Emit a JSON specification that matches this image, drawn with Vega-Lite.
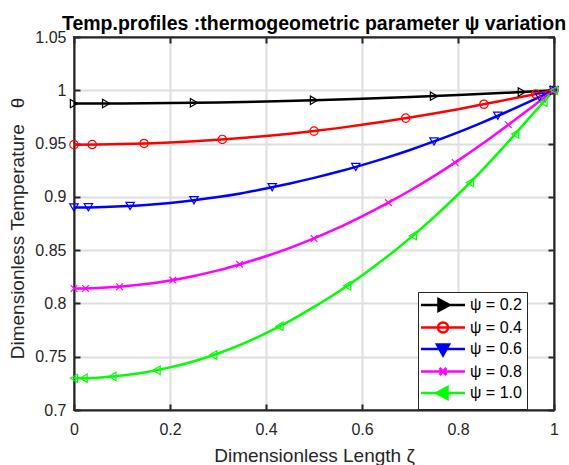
{
  "$schema": "https://vega.github.io/schema/vega-lite/v6.json",
  "width": 480,
  "height": 373,
  "autosize": {"type": "none"},
  "padding": {"left": 74, "top": 37, "right": 15, "bottom": 55},
  "background": "white",
  "title": {
    "text": "Temp.profiles :thermogeometric parameter ψ variation",
    "font": "Liberation Sans",
    "fontSize": 19.5,
    "fontWeight": "bold",
    "color": "#000000",
    "anchor": "middle",
    "baseline": "alphabetic",
    "offset": 7,
    "dy": 27
  },
  "config": {
    "font": "Liberation Sans",
    "view": {"stroke": "#262626", "strokeWidth": 2}
  },
  "datasets": {
    "lines": [
      {"s": "ψ = 0.2", "z": 0, "t": 0.9875},
      {"s": "ψ = 0.2", "z": 0.1, "t": 0.9876},
      {"s": "ψ = 0.2", "z": 0.2, "t": 0.988},
      {"s": "ψ = 0.2", "z": 0.3, "t": 0.9886},
      {"s": "ψ = 0.2", "z": 0.4, "t": 0.9895},
      {"s": "ψ = 0.2", "z": 0.5, "t": 0.9906},
      {"s": "ψ = 0.2", "z": 0.6, "t": 0.992},
      {"s": "ψ = 0.2", "z": 0.7, "t": 0.9936},
      {"s": "ψ = 0.2", "z": 0.8, "t": 0.9955},
      {"s": "ψ = 0.2", "z": 0.9, "t": 0.9976},
      {"s": "ψ = 0.2", "z": 1, "t": 1.0},

      {"s": "ψ = 0.4", "z": 0, "t": 0.949},
      {"s": "ψ = 0.4", "z": 0.05, "t": 0.9491},
      {"s": "ψ = 0.4", "z": 0.1, "t": 0.9495},
      {"s": "ψ = 0.4", "z": 0.15, "t": 0.9501},
      {"s": "ψ = 0.4", "z": 0.2, "t": 0.951},
      {"s": "ψ = 0.4", "z": 0.25, "t": 0.9522},
      {"s": "ψ = 0.4", "z": 0.3, "t": 0.9536},
      {"s": "ψ = 0.4", "z": 0.35, "t": 0.9552},
      {"s": "ψ = 0.4", "z": 0.4, "t": 0.9571},
      {"s": "ψ = 0.4", "z": 0.45, "t": 0.9593},
      {"s": "ψ = 0.4", "z": 0.5, "t": 0.9617},
      {"s": "ψ = 0.4", "z": 0.55, "t": 0.9645},
      {"s": "ψ = 0.4", "z": 0.6, "t": 0.9676},
      {"s": "ψ = 0.4", "z": 0.65, "t": 0.9709},
      {"s": "ψ = 0.4", "z": 0.7, "t": 0.9745},
      {"s": "ψ = 0.4", "z": 0.75, "t": 0.9783},
      {"s": "ψ = 0.4", "z": 0.8, "t": 0.9823},
      {"s": "ψ = 0.4", "z": 0.85, "t": 0.9866},
      {"s": "ψ = 0.4", "z": 0.9, "t": 0.991},
      {"s": "ψ = 0.4", "z": 0.95, "t": 0.9954},
      {"s": "ψ = 0.4", "z": 1, "t": 1.0},

      {"s": "ψ = 0.6", "z": 0, "t": 0.89},
      {"s": "ψ = 0.6", "z": 0.05, "t": 0.8903},
      {"s": "ψ = 0.6", "z": 0.1, "t": 0.8911},
      {"s": "ψ = 0.6", "z": 0.15, "t": 0.8924},
      {"s": "ψ = 0.6", "z": 0.2, "t": 0.8943},
      {"s": "ψ = 0.6", "z": 0.25, "t": 0.8968},
      {"s": "ψ = 0.6", "z": 0.3, "t": 0.8998},
      {"s": "ψ = 0.6", "z": 0.35, "t": 0.9034},
      {"s": "ψ = 0.6", "z": 0.4, "t": 0.9078},
      {"s": "ψ = 0.6", "z": 0.45, "t": 0.9126},
      {"s": "ψ = 0.6", "z": 0.5, "t": 0.9178},
      {"s": "ψ = 0.6", "z": 0.55, "t": 0.9235},
      {"s": "ψ = 0.6", "z": 0.6, "t": 0.9298},
      {"s": "ψ = 0.6", "z": 0.65, "t": 0.9366},
      {"s": "ψ = 0.6", "z": 0.7, "t": 0.944},
      {"s": "ψ = 0.6", "z": 0.75, "t": 0.952},
      {"s": "ψ = 0.6", "z": 0.8, "t": 0.9605},
      {"s": "ψ = 0.6", "z": 0.85, "t": 0.9697},
      {"s": "ψ = 0.6", "z": 0.9, "t": 0.9794},
      {"s": "ψ = 0.6", "z": 0.95, "t": 0.9895},
      {"s": "ψ = 0.6", "z": 1, "t": 1.0},

      {"s": "ψ = 0.8", "z": 0, "t": 0.814},
      {"s": "ψ = 0.8", "z": 0.05, "t": 0.8145},
      {"s": "ψ = 0.8", "z": 0.1, "t": 0.8159},
      {"s": "ψ = 0.8", "z": 0.15, "t": 0.8182},
      {"s": "ψ = 0.8", "z": 0.2, "t": 0.8215},
      {"s": "ψ = 0.8", "z": 0.25, "t": 0.8258},
      {"s": "ψ = 0.8", "z": 0.3, "t": 0.831},
      {"s": "ψ = 0.8", "z": 0.35, "t": 0.8373},
      {"s": "ψ = 0.8", "z": 0.4, "t": 0.8443},
      {"s": "ψ = 0.8", "z": 0.45, "t": 0.8522},
      {"s": "ψ = 0.8", "z": 0.5, "t": 0.861},
      {"s": "ψ = 0.8", "z": 0.55, "t": 0.8708},
      {"s": "ψ = 0.8", "z": 0.6, "t": 0.8817},
      {"s": "ψ = 0.8", "z": 0.65, "t": 0.8934},
      {"s": "ψ = 0.8", "z": 0.7, "t": 0.906},
      {"s": "ψ = 0.8", "z": 0.75, "t": 0.9195},
      {"s": "ψ = 0.8", "z": 0.8, "t": 0.934},
      {"s": "ψ = 0.8", "z": 0.85, "t": 0.9495},
      {"s": "ψ = 0.8", "z": 0.9, "t": 0.966},
      {"s": "ψ = 0.8", "z": 0.95, "t": 0.983},
      {"s": "ψ = 0.8", "z": 1, "t": 1.0},

      {"s": "ψ = 1.0", "z": 0, "t": 0.7297},
      {"s": "ψ = 1.0", "z": 0.05, "t": 0.7303},
      {"s": "ψ = 1.0", "z": 0.1, "t": 0.7323},
      {"s": "ψ = 1.0", "z": 0.15, "t": 0.7355},
      {"s": "ψ = 1.0", "z": 0.2, "t": 0.74},
      {"s": "ψ = 1.0", "z": 0.25, "t": 0.7458},
      {"s": "ψ = 1.0", "z": 0.3, "t": 0.753},
      {"s": "ψ = 1.0", "z": 0.35, "t": 0.7618},
      {"s": "ψ = 1.0", "z": 0.4, "t": 0.7722},
      {"s": "ψ = 1.0", "z": 0.45, "t": 0.7837},
      {"s": "ψ = 1.0", "z": 0.5, "t": 0.7967},
      {"s": "ψ = 1.0", "z": 0.55, "t": 0.8107},
      {"s": "ψ = 1.0", "z": 0.6, "t": 0.8262},
      {"s": "ψ = 1.0", "z": 0.65, "t": 0.843},
      {"s": "ψ = 1.0", "z": 0.7, "t": 0.8613},
      {"s": "ψ = 1.0", "z": 0.75, "t": 0.881},
      {"s": "ψ = 1.0", "z": 0.8, "t": 0.9022},
      {"s": "ψ = 1.0", "z": 0.85, "t": 0.9249},
      {"s": "ψ = 1.0", "z": 0.9, "t": 0.9492},
      {"s": "ψ = 1.0", "z": 0.95, "t": 0.9748},
      {"s": "ψ = 1.0", "z": 1, "t": 1.0}
    ],
    "markers": [
      {"s": "ψ = 0.2", "z": 0, "t": 0.9875},
      {"s": "ψ = 0.2", "z": 0.067, "t": 0.9876},
      {"s": "ψ = 0.2", "z": 0.25, "t": 0.9883},
      {"s": "ψ = 0.2", "z": 0.5, "t": 0.9906},
      {"s": "ψ = 0.2", "z": 0.75, "t": 0.9945},
      {"s": "ψ = 0.2", "z": 0.933, "t": 0.9984},
      {"s": "ψ = 0.2", "z": 1, "t": 1.0},

      {"s": "ψ = 0.4", "z": 0, "t": 0.949},
      {"s": "ψ = 0.4", "z": 0.038, "t": 0.9491},
      {"s": "ψ = 0.4", "z": 0.146, "t": 0.9501},
      {"s": "ψ = 0.4", "z": 0.309, "t": 0.9539},
      {"s": "ψ = 0.4", "z": 0.5, "t": 0.9617},
      {"s": "ψ = 0.4", "z": 0.691, "t": 0.9739},
      {"s": "ψ = 0.4", "z": 0.854, "t": 0.9869},
      {"s": "ψ = 0.4", "z": 0.962, "t": 0.9965},
      {"s": "ψ = 0.4", "z": 1, "t": 1.0},

      {"s": "ψ = 0.6", "z": 0, "t": 0.89},
      {"s": "ψ = 0.6", "z": 0.03, "t": 0.8902},
      {"s": "ψ = 0.6", "z": 0.117, "t": 0.8914},
      {"s": "ψ = 0.6", "z": 0.25, "t": 0.8968},
      {"s": "ψ = 0.6", "z": 0.413, "t": 0.909},
      {"s": "ψ = 0.6", "z": 0.587, "t": 0.9281},
      {"s": "ψ = 0.6", "z": 0.75, "t": 0.952},
      {"s": "ψ = 0.6", "z": 0.883, "t": 0.9761},
      {"s": "ψ = 0.6", "z": 0.97, "t": 0.9937},
      {"s": "ψ = 0.6", "z": 1, "t": 1.0},

      {"s": "ψ = 0.8", "z": 0, "t": 0.814},
      {"s": "ψ = 0.8", "z": 0.024, "t": 0.8141},
      {"s": "ψ = 0.8", "z": 0.095, "t": 0.8157},
      {"s": "ψ = 0.8", "z": 0.206, "t": 0.8219},
      {"s": "ψ = 0.8", "z": 0.345, "t": 0.8367},
      {"s": "ψ = 0.8", "z": 0.5, "t": 0.861},
      {"s": "ψ = 0.8", "z": 0.655, "t": 0.8946},
      {"s": "ψ = 0.8", "z": 0.794, "t": 0.9322},
      {"s": "ψ = 0.8", "z": 0.905, "t": 0.9677},
      {"s": "ψ = 0.8", "z": 0.976, "t": 0.9918},
      {"s": "ψ = 0.8", "z": 1, "t": 1.0},

      {"s": "ψ = 1.0", "z": 0, "t": 0.7297},
      {"s": "ψ = 1.0", "z": 0.02, "t": 0.7298},
      {"s": "ψ = 1.0", "z": 0.08, "t": 0.7314},
      {"s": "ψ = 1.0", "z": 0.172, "t": 0.7373},
      {"s": "ψ = 1.0", "z": 0.29, "t": 0.7516},
      {"s": "ψ = 1.0", "z": 0.428, "t": 0.7785},
      {"s": "ψ = 1.0", "z": 0.569, "t": 0.8166},
      {"s": "ψ = 1.0", "z": 0.706, "t": 0.8636},
      {"s": "ψ = 1.0", "z": 0.825, "t": 0.9134},
      {"s": "ψ = 1.0", "z": 0.919, "t": 0.9589},
      {"s": "ψ = 1.0", "z": 0.978, "t": 0.9887},
      {"s": "ψ = 1.0", "z": 1, "t": 1.0}
    ]
  },
  "layer": [
    {
      "data": {"name": "lines"},
      "mark": {"type": "line", "strokeWidth": 2.5, "interpolate": "monotone"},
      "encoding": {
        "x": {
          "field": "z", "type": "quantitative",
          "scale": {"domain": [0, 1], "nice": false},
          "axis": {
            "orient": "bottom",
            "values": [0, 0.2, 0.4, 0.6, 0.8, 1],
            "format": "~g",
            "title": "Dimensionless Length ζ",
            "titleFont": "Liberation Sans",
            "titleFontSize": 19,
            "titleFontWeight": "normal",
            "titleColor": "#262626",
            "titleBaseline": "alphabetic",
            "titleY": 51,
            "labelFont": "Liberation Sans",
            "labelFontSize": 16,
            "labelColor": "#262626",
            "labelPadding": 17,
            "labelFlush": false,
            "tickSize": -6,
            "tickWidth": 2,
            "tickColor": "#262626",
            "domainColor": "#262626",
            "domainWidth": 2,
            "grid": true,
            "gridColor": "#dedede",
            "gridWidth": 2
          }
        },
        "y": {
          "field": "t", "type": "quantitative",
          "scale": {"domain": [0.7, 1.05], "nice": false, "zero": false},
          "axis": {
            "orient": "left",
            "values": [0.7, 0.75, 0.8, 0.85, 0.9, 0.95, 1, 1.05],
            "format": "~g",
            "title": "Dimensionless Temperature\u00a0\u00a0\u00a0θ",
            "titleFont": "Liberation Sans",
            "titleFontSize": 19,
            "titleFontWeight": "normal",
            "titleColor": "#262626",
            "titleBaseline": "middle",
            "titleX": -57,
            "titleY": 191,
            "labelFont": "Liberation Sans",
            "labelFontSize": 16,
            "labelColor": "#262626",
            "labelPadding": 14,
            "labelFlush": false,
            "tickSize": -6,
            "tickWidth": 2,
            "tickColor": "#262626",
            "domainColor": "#262626",
            "domainWidth": 2,
            "grid": true,
            "gridColor": "#dedede",
            "gridWidth": 2
          }
        },
        "color": {
          "field": "s", "type": "nominal",
          "scale": {
            "domain": ["ψ = 0.2", "ψ = 0.4", "ψ = 0.6", "ψ = 0.8", "ψ = 1.0"],
            "range": ["#000000", "#ff0000", "#0000ff", "#ff00ff", "#00ff00"]
          },
          "legend": null
        }
      }
    },
    {
      "data": {"name": "markers"},
      "mark": {"type": "point", "filled": false, "opacity": 1, "strokeWidth": 1.2, "size": 70},
      "encoding": {
        "x": {
          "field": "z", "type": "quantitative",
          "axis": {
            "orient": "top", "labels": false, "title": null, "grid": false,
            "values": [0, 0.2, 0.4, 0.6, 0.8, 1],
            "tickSize": -6, "tickWidth": 2, "tickColor": "#262626",
            "domainColor": "#262626", "domainWidth": 2
          }
        },
        "y": {
          "field": "t", "type": "quantitative",
          "axis": {
            "orient": "right", "labels": false, "title": null, "grid": false,
            "values": [0.7, 0.75, 0.8, 0.85, 0.9, 0.95, 1, 1.05],
            "tickSize": -6, "tickWidth": 2, "tickColor": "#262626",
            "domainColor": "#262626", "domainWidth": 2
          }
        },
        "color": {
          "field": "s", "type": "nominal",
          "scale": {
            "domain": ["ψ = 0.2", "ψ = 0.4", "ψ = 0.6", "ψ = 0.8", "ψ = 1.0"],
            "range": ["#000000", "#ff0000", "#0000ff", "#ff00ff", "#00ff00"]
          },
          "legend": null
        },
        "shape": {
          "field": "s", "type": "nominal",
          "scale": {
            "domain": ["ψ = 0.2", "ψ = 0.4", "ψ = 0.6", "ψ = 0.8", "ψ = 1.0"],
            "range": ["triangle-right", "circle", "triangle-down", "M-0.8,-0.8L0.8,0.8M-0.8,0.8L0.8,-0.8", "triangle-left"]
          },
          "legend": null
        }
      }
    },
    {
      "data": {"name": "markers"},
      "mark": {"type": "point", "filled": false, "opacity": 0, "size": 100},
      "encoding": {
        "x": {"field": "z", "type": "quantitative", "axis": null},
        "y": {"field": "t", "type": "quantitative", "axis": null},
        "color": {
          "field": "s", "type": "nominal",
          "scale": {
            "domain": ["ψ = 0.2", "ψ = 0.4", "ψ = 0.6", "ψ = 0.8", "ψ = 1.0"],
            "range": ["#000000", "#ff0000", "#0000ff", "#ff00ff", "#00ff00"]
          },
          "legend": {
            "orient": "none",
            "legendX": 344,
            "legendY": 255,
            "title": null,
            "labelFont": "Liberation Sans",
            "labelFontSize": 16,
            "labelColor": "#000000",
            "symbolSize": 100,
            "symbolStrokeWidth": 2.5,
            "symbolOffset": 12,
            "labelOffset": 19,
            "padding": 5,
            "rowPadding": 1.5,
            "strokeColor": "#262626",
            "fillColor": "#ffffff",
            "encode": {
              "legend": {"update": {"strokeWidth": {"value": 1.5}}},
              "symbols": {"update": {"opacity": {"value": 1}}}
            }
          }
        },
        "shape": {
          "field": "s", "type": "nominal",
          "scale": {
            "domain": ["ψ = 0.2", "ψ = 0.4", "ψ = 0.6", "ψ = 0.8", "ψ = 1.0"],
            "range": [
              "M-4.4,0H4.4M-0.9,-1.2L1.3,0L-0.9,1.2ZM-0.5,-0.6L0.6,0L-0.5,0.6Z",
              "M-4.4,0H4.4M-1,0A1,1 0 1,0 1,0A1,1 0 1,0 -1,0",
              "M-4.4,0H4.4M-1.2,-0.9L1.2,-0.9L0,1.3ZM-0.6,-0.5L0.6,-0.5L0,0.6Z",
              "M-4.4,0H4.4M-0.7,-0.7L0.7,0.7M-0.7,0.7L0.7,-0.7",
              "M-4.4,0H4.4M0.9,-1.2L-1.3,0L0.9,1.2ZM0.5,-0.6L-0.6,0L0.5,0.6Z"
            ]
          },
          "legend": {
            "orient": "none",
            "legendX": 344,
            "legendY": 255,
            "title": null,
            "labelFont": "Liberation Sans",
            "labelFontSize": 16,
            "labelColor": "#000000",
            "symbolSize": 100,
            "symbolStrokeWidth": 2.5,
            "symbolOffset": 12,
            "labelOffset": 19,
            "padding": 5,
            "rowPadding": 1.5,
            "strokeColor": "#262626",
            "fillColor": "#ffffff",
            "encode": {
              "legend": {"update": {"strokeWidth": {"value": 1.5}}},
              "symbols": {"update": {"opacity": {"value": 1}}}
            }
          }
        }
      }
    }
  ],
  "resolve": {
    "axis": {"x": "independent", "y": "independent"},
    "scale": {"shape": "independent", "color": "independent"},
    "legend": {"shape": "independent", "color": "independent"}
  }
}
